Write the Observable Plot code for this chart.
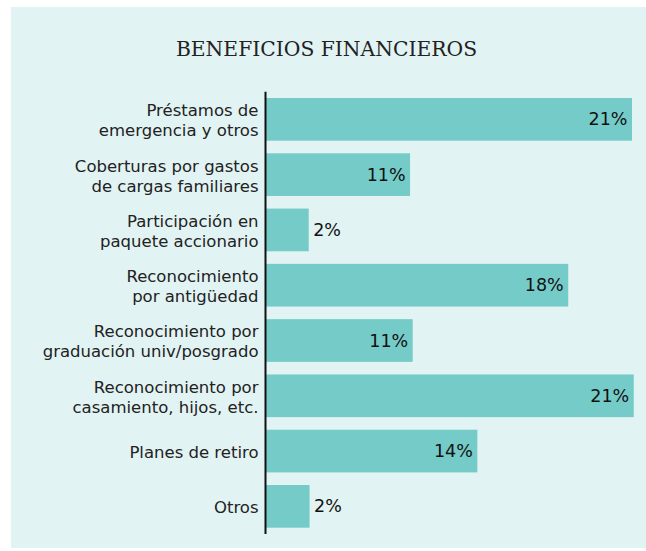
<!DOCTYPE html>
<html>
<head>
<meta charset="utf-8">
<script src="https://cdn.jsdelivr.net/npm/d3@7"></script>
<script src="https://cdn.jsdelivr.net/npm/@observablehq/plot@0.6"></script>
<style>
  html, body { margin: 0; padding: 0; background: #ffffff; }
  #wrap { position: relative; width: 646px; height: 551px; overflow: hidden; }
  #panel { position: absolute; left: 11px; top: 7px; width: 635px; height: 541px; background: #e1f3f3; }
  #title { position: absolute; left: 0; width: 653px; top: 39px; text-align: center; line-height: 1;
           font-family: "DejaVu Serif", serif; font-size: 20.3px; color: #222; }
  #chart { position: absolute; left: 0; top: 0; }
</style>
</head>
<body>
<div id="wrap">
  <div id="panel"></div>
  <div id="title">BENEFICIOS FINANCIEROS</div>
  <div id="chart"></div>
</div>
<script>
const categories = [
  "Préstamos de\nemergencia y otros",
  "Coberturas por gastos\nde cargas familiares",
  "Participación en\npaquete accionario",
  "Reconocimiento\npor antigüedad",
  "Reconocimiento por\ngraduación univ/posgrado",
  "Reconocimiento por\ncasamiento, hijos, etc.",
  "Planes de retiro",
  "Otros"
];
// percentages printed on the bars
const values = [21, 11, 2, 18, 11, 21, 14, 2];
// bar lengths as drawn in the picture (in % units)
const barLengths = [21, 8.3, 2.5, 17.35, 8.45, 21.1, 12.15, 2.55];

const data = categories.map((c, i) => ({
  cat: c, value: values[i], len: barLengths[i], label: values[i] + "%",
  inside: values[i] > 5
}));

const font = "'DejaVu Sans', 'Open Sans', sans-serif";

const chart = Plot.plot({
  width: 646,
  height: 551,
  marginLeft: 265,
  marginRight: 14,
  marginTop: 91.7,
  marginBottom: 17,
  style: { background: "transparent", fontFamily: font, overflow: "visible" },
  x: { domain: [0, 21], axis: null },
  y: { domain: categories, axis: null, padding: 0.228, paddingOuter: 0.114, round: false },
  marks: [
    Plot.barX(data, { x: "len", y: "cat", fill: "#75cbc8" }),
    Plot.ruleX([0], { stroke: "#111", strokeWidth: 2 }),
    Plot.text(data, {
      x: 0, y: "cat", text: "cat", textAnchor: "end", dx: -7,
      fontSize: 16.5, fill: "#222", lineHeight: 1.22, fontWeight: 400
    }),
    Plot.text(data.filter(d => d.inside), {
      x: "len", y: "cat", text: "label", textAnchor: "end", dx: -5,
      fontSize: 17.5, fill: "#111", fontWeight: 400
    }),
    Plot.text(data.filter(d => !d.inside), {
      x: "len", y: "cat", text: "label", textAnchor: "start", dx: 4,
      fontSize: 17.5, fill: "#111", fontWeight: 400
    })
  ]
});
document.getElementById("chart").appendChild(chart);
</script>
</body>
</html>
